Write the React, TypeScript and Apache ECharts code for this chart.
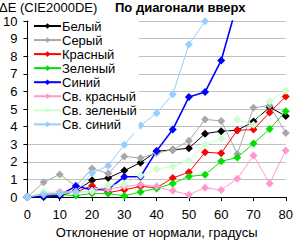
import React, { useEffect, useRef } from "react";
import * as echarts from "echarts";

const xValues = [0, 5, 10, 15, 20, 25, 30, 35, 40, 45, 50, 55, 60, 65, 70, 75, 80];
const seriesNames = ["Белый", "Серый", "Красный", "Зеленый", "Синий", "Св. красный", "Св. зеленый", "Св. синий"];
const seriesColors = ["#000000", "#a8a8a8", "#ff0000", "#00e000", "#0000ff", "#ff99cc", "#ccffcc", "#99ccff"];
const white = [0, 0, 0.05, 0.35, 0.95, 1.08, 1.5, 1.95, 2.6, 2.68, 2.77, 3.6, 3.74, 3.79, 4.29, 5.1, 4.6];
const gray = [0, 0.84, 1.28, 0.62, 1.62, 1.33, 2.3, 2.22, 2.5, 2.69, 3.19, 4.41, 4.32, 2.45, 5.07, 5.2, 3.64];
const red = [0, 0.12, 0.22, 0.28, 0.64, 0.25, 0.41, 0.6, 0.53, 1.08, 1.41, 2.54, 2.49, 3.79, 3.83, 4.8, 5.71];
const green = [0, 0.08, 0.13, 0.08, 0.2, 0.2, 0.06, 0.29, 0.49, 0.77, 1.17, 1.26, 2.03, 2.24, 3.04, 3.86, 4.87];
const blue = [0, 0.03, 0.1, 0.62, 0.4, 0.45, 1.15, 1.15, 2.62, 3.83, 5.68, 5.96, 7.76, 11, null, null, null];
const lightRed = [0, 0.2, 0.3, 0.3, 0.3, 0.45, 0.6, 0.71, 0.59, 0.35, 0.13, 0.53, 0.4, 1.03, 2.36, 0.77, 2.64];
const lightGreen = [0, 0.31, 0.22, 0.25, 0.35, 0.66, 0.71, 1.22, 1.59, 1.74, 2.06, 2.97, 3.31, 4.41, 4.1, 5.44, 6.03];
const lightBlue = [0, 0.14, 0.2, 0.3, 1.36, 1.78, 2.97, 4.06, 4.76, 5.84, 8.66, 9.98, 12, null, null, null, null];
const allSeries = [white, gray, red, green, blue, lightRed, lightGreen, lightBlue];

const FONT = "'Liberation Sans', Arial, sans-serif";

export default function App() {
  const ref = useRef<HTMLDivElement>(null);
  useEffect(() => {
    if (!ref.current) return;
    const chart = echarts.init(ref.current, null, { renderer: "svg" });
    chart.setOption({
      animation: false,
      backgroundColor: "#ffffff",
      textStyle: { fontFamily: FONT, color: "#000" },
      title: [
        { text: "ΔE (CIE2000DE)", left: -1, top: 1, padding: 0, textStyle: { fontSize: 13, fontWeight: "normal", color: "#000", fontFamily: FONT } },
        { text: "По диагонали вверх", left: 115, top: 1, padding: 0, textStyle: { fontSize: 13, fontWeight: "bold", color: "#000", fontFamily: FONT } },
      ],
      grid: { left: 26, right: 7, top: 21, bottom: 41, containLabel: false },
      legend: {
        orient: "vertical",
        left: 29,
        top: 17.5,
        padding: [2, 2, 2, 4],
        backgroundColor: "#ffffff",
        itemWidth: 27,
        itemHeight: 7,
        itemGap: 1.05,
        textStyle: { fontSize: 13, color: "#000", fontFamily: FONT, padding: [0, 0, 0, -4] },
        data: seriesNames,
      },
      xAxis: {
        type: "value",
        min: 0,
        max: 80,
        interval: 10,
        name: "Отклонение от нормали, градусы",
        nameLocation: "middle",
        nameGap: 29,
        nameTextStyle: { fontSize: 13, color: "#000", fontFamily: FONT },
        axisLine: { lineStyle: { color: "#000", width: 1 } },
        axisTick: { show: true, length: 4, lineStyle: { color: "#000" } },
        axisLabel: { fontSize: 13, color: "#000", margin: 11, fontFamily: FONT },
        splitLine: { show: false },
      },
      yAxis: {
        type: "value",
        min: 0,
        max: 10,
        interval: 1,
        axisLine: { show: true, lineStyle: { color: "#000", width: 1 } },
        axisTick: { show: true, length: 4, lineStyle: { color: "#000" } },
        axisLabel: { fontSize: 13, color: "#000", margin: 10, fontFamily: FONT },
        splitLine: { show: true, lineStyle: { color: "#c0c0c0", width: 1 } },
      },
      series: allSeries.map((vals, i) => ({
        name: seriesNames[i],
        type: "line",
        data: xValues.map((x, j) => [x, vals[j]]),
        symbol: "diamond",
        symbolSize: 8,
        showSymbol: true,
        connectNulls: false,
        clip: true,
        itemStyle: { color: seriesColors[i] },
        lineStyle: { color: seriesColors[i], width: i === 4 ? 1.6 : 1 },
        z: 2,
      })),
    });
    return () => chart.dispose();
  }, []);
  return <div ref={ref} style={{ width: 296, height: 244, position: "fixed", left: 0, top: 0 }} />;
}
